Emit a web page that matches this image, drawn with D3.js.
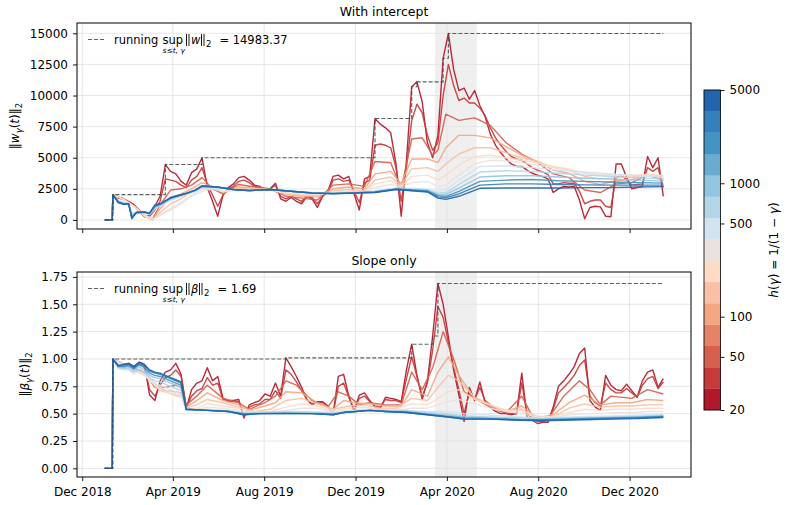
<!DOCTYPE html>
<html>
<head>
<meta charset="utf-8">
<script src="https://cdn.jsdelivr.net/npm/d3@7"></script>
<style>
  body { margin: 0; background: #fff; }
  text { font-family: "DejaVu Sans", sans-serif; fill: #000; }
</style>
</head>
<body>
<div id="chart"></div>
<script>
// ---- data ----
// week index k -> date = startDate + 7k days; all series sit at 0 before the start
const startDate = "2019-01-11";
const leadZeroWeeks = [-1.57, -0.15];
const shadeDates = ["2020-03-16", "2020-05-11"];
const xDomainDates = ["2018-11-24", "2021-02-21"];
const halfLives = [20, 35, 55, 90, 140, 220, 350, 450, 700, 1100, 1900, 3200, 5000];
const cbTicks = [20, 50, 100, 500, 1000, 5000];
const topTicks = [0, 2500, 5000, 7500, 10000, 12500, 15000];
const botTicks = [0, 0.25, 0.5, 0.75, 1.0, 1.25, 1.5, 1.75];
const binColors = ["#b2182b","#c53a3a","#d6604d","#e58267","#f4a582","#f9c0a3","#fddbc7","#e9e2de",
                   "#d1e5f0","#b2d5e8","#92c5de","#6aacd0","#4393c3","#3580bb","#2166ac"];

// weekly values (k = 0..105)
const top_h20 = [2030,1750,1650,1450,1150,650,250,400,1100,1900,
  4450,3900,3700,3100,2800,3800,4100,5000,2600,1500,
  300,2000,2600,2900,3400,3500,3200,2800,2700,2400,
  2500,2950,1700,1500,1800,1500,1300,1900,1700,1000,
  1900,2300,3500,3600,3300,3500,2100,800,3300,3500,
  8150,7700,7400,7000,4500,300,4800,10700,11100,9500,
  6200,5000,6800,13000,14983.37,12100,10400,10600,9700,10400,
  9200,8300,6900,6000,5400,4900,4500,4300,4300,4000,
  3750,3600,3480,3300,2200,2500,2700,2650,2700,1600,
  100,1000,1100,1050,300,250,4500,4500,3400,2500,
  2600,2700,5100,4200,5000,1900];
const top_h35 = [2030,1800,1700,1500,1250,800,350,300,800,1500,
  3300,3200,3100,2800,2600,3200,3500,4200,2900,2000,
  1100,2000,2500,2700,3100,3200,3000,2700,2650,2450,
  2500,2800,1900,1700,1900,1700,1500,1900,1800,1300,
  1900,2200,3200,3300,3100,3200,2300,1400,3000,3200,
  6000,6100,6000,5800,4200,1500,4200,8000,9300,8600,
  6800,5600,6200,10000,12500,10800,9600,9800,9400,9400,
  9000,8400,7400,6600,6000,5500,5100,4900,4800,4500,
  4200,4000,3850,3650,2900,2900,3000,2950,2950,2300,
  1300,1500,1600,1600,1100,1000,3400,3600,3200,2800,
  2850,2900,4200,3900,4200,2600];
// [week, value] pairs
const top_h55 = [[0,2030],[2,1700],[4,1150],[6,350],[7.6,100],[9,1200],[11,2400],[13,2500],[15,2800],[17,3400],[19,2500],[21,2100],[24,2850],[27,2650],[30,2500],[33,1900],[36,1750],[39,1600],[42,2800],[45,2900],[48,2700],[50,4700],[53,4600],[55,2500],[57,6500],[59,6600],[61,5200],[62,5600],[63.5,8500],[66,8000],[69,8200],[72,7600],[75,6200],[78,5300],[81,4600],[84,3700],[87,3400],[90,2400],[93,2200],[96,2900],[99,3000],[102,3600],[105,3200]];
const top_h90 = [[0,2030],[2,1650],[4,1100],[6,300],[7.6,0],[9,900],[11,1800],[13,2100],[15,2500],[17,3000],[19,2650],[21,2200],[24,2650],[27,2550],[30,2450],[33,2050],[36,1900],[39,1850],[42,2500],[45,2650],[48,2500],[50,3700],[53,3900],[55,2900],[57,4900],[60,4900],[62,4600],[63.5,5800],[66,6800],[69,6800],[72,6600],[75,5900],[78,5200],[81,4700],[84,4000],[87,3750],[90,3100],[93,2850],[96,3150],[99,3250],[102,3550],[105,3400]];
const top_h140 = [[0,2030],[2,1650],[4,1100],[6,300],[7.6,0],[9,600],[11,1300],[13,1700],[15,2250],[17,2700],[19,2600],[21,2250],[24,2550],[27,2500],[30,2450],[33,2100],[36,2000],[39,1950],[42,2350],[45,2450],[48,2350],[50,3200],[53,3450],[55,2800],[57,4100],[60,4200],[62,3900],[63.5,4500],[66,5300],[69,5800],[72,5800],[75,5400],[78,5000],[81,4700],[84,4250],[87,4000],[90,3500],[93,3300],[96,3400],[99,3450],[102,3600],[105,3550]];
const top_h220 = [[0,2030],[2,1650],[4,1100],[6,350],[7.6,50],[9,400],[11,900],[13,1400],[15,2000],[17,2450],[19,2550],[21,2250],[24,2450],[27,2450],[30,2400],[33,2150],[36,2050],[39,2000],[42,2250],[45,2350],[48,2300],[50,2900],[53,3150],[55,2700],[57,3500],[60,3600],[62,3200],[63.5,3600],[66,4400],[69,5100],[72,5200],[75,5000],[78,4800],[81,4600],[84,4300],[87,4100],[90,3750],[93,3600],[96,3600],[99,3600],[102,3650],[105,3600]];
const top_h350 = [[0,2030],[2,1650],[4,1100],[6,400],[7.6,100],[9,350],[11,800],[13,1300],[15,1900],[17,2300],[19,2500],[21,2300],[24,2400],[27,2420],[30,2400],[33,2200],[36,2100],[39,2050],[42,2200],[45,2250],[48,2250],[50,2600],[53,2850],[55,2650],[57,3000],[60,3100],[62,2700],[63.5,2800],[66,3600],[69,4500],[72,4800],[75,4750],[78,4600],[81,4400],[84,4200],[87,4000],[90,3800],[93,3650],[96,3600],[99,3580],[102,3560],[105,3550]];
const top_h450 = [[0,2030],[1,1560],[2,1420],[3,1300],[3.6,600],[4.5,620],[6,560],[7,430],[8,900],[9,1100],[11,1600],[13.7,2000],[15.7,2300],[17,2580],[20,2570],[23,2450],[26,2400],[30,2420],[34,2300],[38,2200],[42,2150],[46,2230],[50,2330],[54,2570],[57,2520],[60,2480],[62,2300],[63.5,2400],[66,3200],[70,4300],[75,4350],[80,4200],[85,4000],[90,3850],[95,3700],[100,3550],[105,3420]];
const top_h700 = [[0,2030],[1,1520],[2,1380],[3,1300],[3.6,450],[4.5,600],[6,580],[7,470],[8,980],[9,1150],[11,1650],[13.7,2040],[15.7,2330],[17,2630],[20,2600],[23,2450],[26,2390],[30,2430],[34,2300],[38,2190],[42,2140],[46,2210],[50,2290],[54,2530],[57,2470],[60,2420],[62,2150],[63.5,2200],[66,2850],[70,3850],[75,3950],[80,3900],[85,3750],[90,3600],[95,3500],[100,3380],[105,3280]];
const top_h1100 = [[0,2030],[1,1480],[2,1330],[3,1300],[3.6,350],[4.5,600],[6,600],[7,500],[8,1050],[9,1200],[11,1700],[13.7,2070],[15.7,2360],[17,2670],[20,2620],[23,2450],[26,2380],[30,2440],[34,2300],[38,2180],[42,2130],[46,2190],[50,2260],[54,2500],[57,2430],[60,2370],[62,2050],[63.5,2050],[66,2550],[70,3450],[75,3550],[80,3550],[85,3450],[90,3350],[95,3280],[100,3200],[105,3120]];
const top_h1900 = [[0,2030],[1,1450],[2,1300],[3,1300],[3.6,250],[4.5,600],[6,620],[7,520],[8,1100],[9,1250],[11,1750],[13.7,2090],[15.7,2380],[17,2700],[20,2630],[23,2450],[26,2370],[30,2450],[34,2300],[38,2170],[42,2120],[46,2170],[50,2240],[54,2480],[57,2400],[60,2330],[62,1950],[63.5,1900],[66,2300],[70,3100],[75,3200],[80,3250],[85,3150],[90,3100],[95,3050],[100,3000],[105,2960]];
const top_h3200 = [[0,2030],[1,1420],[2,1270],[3,1300],[3.6,150],[4.5,600],[6,640],[7,540],[8,1150],[9,1280],[11,1780],[13.7,2100],[15.7,2390],[17,2720],[20,2640],[23,2450],[26,2360],[30,2450],[34,2300],[38,2160],[42,2110],[46,2160],[50,2220],[54,2460],[57,2370],[60,2290],[62,1850],[63.5,1780],[66,2100],[70,2800],[75,2900],[80,2900],[85,2850],[90,2820],[95,2800],[100,2800],[105,2800]];
const top_h5000 = [[0,2030],[1,1400],[2,1250],[3,1300],[3.6,100],[4.5,600],[6,650],[7,550],[8,1200],[9,1300],[11,1800],[13.7,2100],[15.7,2400],[17,2750],[20,2650],[23,2450],[26,2350],[30,2450],[34,2300],[38,2150],[42,2100],[46,2150],[50,2200],[54,2450],[57,2350],[60,2250],[62,1750],[63.5,1650],[66,1900],[70,2540],[75,2560],[80,2560],[85,2560],[90,2600],[95,2600],[100,2650],[105,2680]];

const bot_h20 = [1.00,0.93,0.95,0.96,0.93,0.97,0.95,0.67,0.62,0.80,
  0.88,0.90,0.96,0.86,0.55,0.72,0.78,0.80,0.92,0.80,
  0.84,0.64,0.62,0.62,0.63,0.46,0.58,0.60,0.62,0.68,
  0.66,0.78,0.66,1.01,0.93,0.84,0.74,0.63,0.58,0.61,
  0.61,0.57,0.49,0.84,0.86,0.66,0.52,0.67,0.69,0.62,
  0.56,0.55,0.65,0.64,0.63,0.61,0.90,1.135,0.85,0.63,
  0.80,1.21,1.69,1.50,1.20,0.90,0.67,0.43,0.74,0.62,
  0.79,0.60,0.56,0.52,0.50,0.50,0.49,0.50,0.87,0.47,
  0.44,0.41,0.42,0.42,0.56,0.75,0.80,0.86,0.93,1.05,
  1.10,0.62,0.56,0.53,0.85,0.76,0.72,0.71,0.77,0.71,
  0.65,0.80,0.88,0.90,0.74,0.82];
const bot_h35 = [1.00,0.93,0.94,0.95,0.92,0.95,0.93,0.72,0.66,0.76,
  0.83,0.85,0.90,0.84,0.56,0.66,0.71,0.73,0.83,0.76,
  0.78,0.63,0.61,0.61,0.61,0.48,0.56,0.58,0.59,0.63,
  0.63,0.71,0.64,0.90,0.86,0.79,0.71,0.63,0.59,0.60,
  0.60,0.57,0.50,0.75,0.78,0.65,0.54,0.64,0.66,0.61,
  0.57,0.56,0.63,0.62,0.62,0.60,0.82,1.02,0.84,0.66,
  0.78,1.08,1.48,1.38,1.15,0.92,0.72,0.50,0.70,0.63,
  0.74,0.62,0.58,0.54,0.52,0.51,0.50,0.50,0.78,0.50,
  0.46,0.43,0.43,0.44,0.54,0.69,0.74,0.79,0.85,0.94,
  0.99,0.66,0.60,0.57,0.78,0.72,0.69,0.69,0.73,0.69,
  0.65,0.76,0.82,0.84,0.73,0.79];
const bot_h55 = [[0,1.00],[3,0.93],[6,0.88],[8,0.74],[10,0.74],[12,0.76],[13,0.74],[14,0.58],[16,0.66],[18,0.76],[21,0.64],[24,0.60],[26,0.54],[29,0.60],[31,0.66],[33,0.80],[35,0.76],[38,0.62],[41,0.56],[43,0.70],[45,0.66],[47,0.58],[49,0.60],[52,0.58],[55,0.58],[57,0.88],[59,0.72],[61,0.92],[63,1.25],[65,1.00],[67,0.70],[69,0.64],[72,0.56],[75,0.51],[78,0.66],[80,0.48],[83,0.45],[86,0.66],[89,0.80],[91,0.72],[93,0.58],[95,0.66],[99,0.64],[102,0.72],[105,0.68]];
const bot_h90 = [[0,1.00],[3,0.92],[6,0.87],[8,0.74],[10,0.71],[12,0.70],[13,0.69],[14,0.56],[16,0.62],[18,0.69],[21,0.62],[24,0.58],[26,0.53],[29,0.57],[31,0.60],[33,0.70],[36,0.69],[39,0.60],[42,0.54],[44,0.62],[46,0.60],[49,0.59],[52,0.57],[55,0.57],[57,0.72],[60,0.66],[62,0.88],[64,1.02],[66,0.85],[69,0.64],[72,0.57],[75,0.52],[78,0.57],[81,0.46],[84,0.49],[87,0.60],[90,0.67],[93,0.58],[96,0.60],[99,0.60],[102,0.63],[105,0.62]];
const bot_h140 = [[0,1.00],[3,0.91],[6,0.86],[9,0.71],[12,0.67],[13,0.66],[14,0.55],[16,0.58],[18,0.63],[21,0.60],[24,0.56],[27,0.52],[30,0.54],[33,0.62],[36,0.64],[39,0.59],[42,0.54],[45,0.57],[48,0.58],[51,0.55],[54,0.55],[57,0.64],[60,0.62],[62,0.74],[64,0.85],[66,0.80],[69,0.65],[72,0.58],[75,0.53],[78,0.54],[81,0.47],[84,0.47],[87,0.55],[90,0.59],[93,0.56],[96,0.57],[99,0.57],[102,0.58],[105,0.58]];
const bot_h220 = [[0,1.00],[3,0.91],[6,0.85],[9,0.72],[12,0.66],[13,0.65],[14,0.54],[16,0.55],[18,0.59],[21,0.57],[24,0.55],[27,0.51],[30,0.52],[33,0.56],[36,0.59],[39,0.57],[42,0.53],[45,0.55],[48,0.56],[51,0.54],[54,0.54],[57,0.59],[60,0.58],[62,0.64],[64,0.70],[66,0.72],[69,0.63],[72,0.58],[75,0.53],[78,0.52],[81,0.48],[84,0.47],[87,0.51],[90,0.54],[93,0.53],[96,0.54],[99,0.54],[102,0.55],[105,0.55]];
const bot_h350 = [[0,1.00],[3,0.92],[6,0.86],[9,0.74],[12,0.68],[13,0.67],[14,0.53],[16,0.54],[18,0.56],[21,0.55],[24,0.53],[27,0.51],[30,0.51],[33,0.53],[36,0.55],[39,0.55],[42,0.52],[45,0.53],[48,0.54],[51,0.53],[54,0.53],[57,0.55],[60,0.55],[62,0.58],[64,0.61],[66,0.63],[69,0.59],[72,0.55],[75,0.52],[78,0.50],[81,0.47],[84,0.46],[87,0.49],[90,0.50],[93,0.50],[96,0.51],[99,0.51],[102,0.52],[105,0.52]];
const bot_h450 = [[0,1.00],[1,0.91],[2,0.90],[3,0.90],[4,0.86],[5,0.89],[6,0.86],[7,0.80],[8,0.77],[9,0.76],[10,0.74],[11,0.72],[12,0.70],[13,0.68],[14,0.53],[18,0.54],[22,0.53],[25,0.51],[28,0.515],[33,0.52],[38,0.52],[42,0.51],[44,0.52],[49,0.54],[52,0.535],[56,0.53],[60,0.52],[64,0.52],[67,0.50],[72,0.485],[78,0.47],[82,0.46],[90,0.475],[95,0.48],[100,0.485],[105,0.495]];
const bot_h700 = [[0,1.00],[1,0.92],[2,0.91],[3,0.91],[4,0.88],[5,0.91],[6,0.88],[7,0.83],[8,0.80],[9,0.79],[10,0.77],[11,0.75],[12,0.73],[13,0.71],[14,0.53],[18,0.535],[22,0.525],[25,0.505],[28,0.51],[33,0.515],[38,0.51],[42,0.505],[44,0.515],[49,0.535],[52,0.53],[56,0.525],[60,0.51],[64,0.50],[67,0.48],[72,0.47],[78,0.46],[82,0.455],[90,0.465],[95,0.47],[100,0.475],[105,0.485]];
const bot_h1100 = [[0,1.00],[1,0.93],[2,0.92],[3,0.93],[4,0.90],[5,0.93],[6,0.90],[7,0.85],[8,0.83],[9,0.82],[10,0.80],[11,0.78],[12,0.76],[13,0.74],[14,0.535],[18,0.53],[22,0.52],[25,0.50],[28,0.505],[33,0.51],[38,0.505],[42,0.50],[44,0.51],[49,0.53],[52,0.525],[56,0.52],[60,0.50],[64,0.485],[67,0.47],[72,0.46],[78,0.45],[82,0.45],[90,0.46],[95,0.465],[100,0.47],[105,0.48]];
const bot_h1900 = [[0,1.00],[1,0.93],[2,0.93],[3,0.94],[4,0.91],[5,0.95],[6,0.92],[7,0.87],[8,0.85],[9,0.84],[10,0.82],[11,0.80],[12,0.78],[13,0.76],[14,0.54],[18,0.53],[22,0.52],[25,0.50],[28,0.50],[33,0.505],[38,0.50],[42,0.495],[44,0.51],[49,0.53],[52,0.52],[56,0.515],[60,0.495],[64,0.475],[67,0.46],[72,0.455],[78,0.445],[82,0.445],[90,0.455],[95,0.46],[100,0.465],[105,0.475]];
const bot_h3200 = [[0,1.00],[1,0.94],[2,0.94],[3,0.95],[4,0.92],[5,0.96],[6,0.94],[7,0.89],[8,0.87],[9,0.86],[10,0.84],[11,0.82],[12,0.80],[13,0.78],[14,0.54],[18,0.53],[22,0.52],[25,0.49],[28,0.50],[33,0.50],[38,0.50],[42,0.49],[44,0.51],[49,0.53],[52,0.52],[56,0.51],[60,0.49],[64,0.47],[67,0.45],[72,0.45],[78,0.44],[82,0.44],[90,0.45],[95,0.455],[100,0.46],[105,0.47]];
const bot_h5000 = [[0,1.00],[1,0.94],[2,0.95],[3,0.96],[4,0.93],[5,0.97],[6,0.95],[7,0.90],[8,0.88],[9,0.87],[10,0.85],[11,0.83],[12,0.81],[13,0.79],[14,0.54],[18,0.53],[22,0.52],[25,0.49],[28,0.50],[33,0.50],[38,0.50],[42,0.49],[44,0.51],[49,0.53],[52,0.52],[56,0.51],[60,0.49],[64,0.47],[67,0.45],[72,0.45],[78,0.44],[82,0.435],[90,0.445],[95,0.45],[100,0.455],[105,0.465]];

const topLines = [top_h20, top_h35, top_h55, top_h90, top_h140, top_h220, top_h350, top_h450, top_h700, top_h1100, top_h1900, top_h3200, top_h5000];
const botLines = [bot_h20, bot_h35, bot_h55, bot_h90, bot_h140, bot_h220, bot_h350, bot_h450, bot_h700, bot_h1100, bot_h1900, bot_h3200, bot_h5000];

// ---- layout ----
const W = 786, H = 505;
const svg = d3.select("#chart").append("svg").attr("width", W).attr("height", H);
const parse = d3.timeParse("%Y-%m-%d");
const t0 = parse(startDate);
const weekDate = k => new Date(t0.getTime() + k * 7 * 864e5);

const x = d3.scaleTime().domain(xDomainDates.map(parse)).range([77, 691]);
const xTicks = d3.timeMonth.range(x.domain()[0], x.domain()[1]).filter(d => d.getMonth() % 4 === 3);

const color = d3.scaleQuantize()
  .domain([Math.log10(20), Math.log10(5000)])
  .range(binColors);

// turn a series (weekly array or [week,value] pairs) into [date,value] points
function toPoints(s){
  const pairs = Array.isArray(s[0]) ? s : s.map((v, i) => [i, v]);
  return leadZeroWeeks.map(k => [k, 0]).concat(pairs).map(([k, v]) => [weekDate(k), v]);
}

function runningSup(series){
  const all = series.flat().sort((a, b) => a[0] - b[0]);
  let m = -Infinity;
  const out = [];
  for (const [t, v] of all){
    if (v > m){ m = v; out.push([t, m]); }
  }
  out.push([all[all.length - 1][0], m]);
  return {pts: out, max: m};
}

function drawPanel(cfg){
  const g = svg.append("g");
  const y = d3.scaleLinear().domain(cfg.yDomain).range([cfg.bottom, cfg.top]);

  // shaded period
  const s0 = parse(shadeDates[0]), s1 = parse(shadeDates[1]);
  g.append("rect")
    .attr("x", x(s0)).attr("width", x(s1) - x(s0))
    .attr("y", cfg.top).attr("height", cfg.bottom - cfg.top)
    .attr("fill", "#efefef");

  // grid
  g.selectAll(".gx").data(xTicks).enter().append("line")
    .attr("x1", d => x(d)).attr("x2", d => x(d))
    .attr("y1", cfg.top).attr("y2", cfg.bottom)
    .attr("stroke", "#e3e3e3").attr("stroke-width", 0.9);
  g.selectAll(".gy").data(cfg.ticks).enter().append("line")
    .attr("x1", 77).attr("x2", 691)
    .attr("y1", d => y(d)).attr("y2", d => y(d))
    .attr("stroke", "#e3e3e3").attr("stroke-width", 0.9);

  // lines, smallest h first so the blue ones sit on top
  const line = d3.line().x(d => x(d[0])).y(d => y(d[1]));
  const series = cfg.lines.map(toPoints);
  g.selectAll(".ln").data(series).enter().append("path")
    .attr("d", line)
    .attr("fill", "none")
    .attr("stroke", (d, i) => color(Math.log10(halfLives[i])))
    .attr("stroke-width", 1.4)
    .attr("stroke-linejoin", "round")
    .attr("opacity", 0.92);

  // running sup
  const sup = runningSup(series);
  g.append("path")
    .attr("d", d3.line().x(d => x(d[0])).y(d => y(d[1])).curve(d3.curveStepAfter)(sup.pts))
    .attr("fill", "none").attr("stroke", "#444").attr("stroke-width", 1.1)
    .attr("stroke-dasharray", "4,2").attr("opacity", 0.85);

  // axes
  const ax = g.append("g").attr("transform", `translate(0,${cfg.bottom})`)
    .call(d3.axisBottom(x).tickValues(xTicks).tickSize(4).tickPadding(6.5)
      .tickFormat(cfg.showX ? d3.timeFormat("%b %Y") : ""));
  const ay = g.append("g").attr("transform", "translate(77,0)")
    .call(d3.axisLeft(y).tickValues(cfg.ticks).tickSize(4).tickPadding(5)
      .tickFormat(cfg.fmt));
  [ax, ay].forEach(a => {
    a.select(".domain").remove();
    a.selectAll("text").style("font-size", "12px").style("font-family", "DejaVu Sans");
    a.selectAll("line").attr("stroke-width", 0.9);
  });

  // frame
  g.append("rect").attr("x", 77).attr("y", cfg.top)
    .attr("width", 614).attr("height", cfg.bottom - cfg.top)
    .attr("fill", "none").attr("stroke", "#000").attr("stroke-width", 1);

  // title
  g.append("text").attr("x", 384).attr("y", cfg.top - 7)
    .attr("text-anchor", "middle").style("font-size", "12.5px").text(cfg.title);

  // y label
  const yl = g.append("text")
    .attr("transform", `translate(${cfg.labelX},${(cfg.top + cfg.bottom) / 2}) rotate(-90)`)
    .attr("text-anchor", "middle").style("font-size", "12px");
  yl.append("tspan").text("\u2016");
  yl.append("tspan").style("font-style", "italic").text(cfg.sym);
  yl.append("tspan").attr("dy", 3).style("font-size", "8.5px").style("font-style", "italic").text("\u03b3");
  yl.append("tspan").attr("dy", -3).text("(");
  yl.append("tspan").style("font-style", "italic").text("t");
  yl.append("tspan").text(")\u2016");
  yl.append("tspan").attr("dy", 3).style("font-size", "8.5px").text("2");

  // legend
  const ly = cfg.top + 16.5;
  const lg = g.append("g");
  lg.append("line").attr("x1", 88).attr("x2", 104).attr("y1", ly).attr("y2", ly)
    .attr("stroke", "#444").attr("stroke-width", 1.1).attr("stroke-dasharray", "4,2").attr("opacity", 0.85);
  let cx = 114;
  const base = ly + 4;
  function piece(str, opt){
    opt = opt || {};
    const t = lg.append("text").attr("x", cx).attr("y", base + (opt.dy || 0))
      .style("font-size", (opt.size || 11.5) + "px").text(str);
    if (opt.italic) t.style("font-style", "italic");
    const start = cx;
    cx += t.node().getComputedTextLength() + (opt.gap || 0);
    return start;
  }
  // double bar of the norm, drawn as two strokes
  function normBar(){
    const x0 = Math.round(cx) + 0.5;
    [x0, x0 + 2.5].forEach(bx => lg.append("line")
      .attr("x1", bx).attr("x2", bx).attr("y1", base - 9.5).attr("y2", base + 2.5)
      .attr("stroke", "#000").attr("stroke-width", 0.9));
    cx = x0 + 4.5;
  }
  piece("running\u00a0", {gap: 0.5});
  const supX = piece("sup", {gap: 3});
  normBar();
  piece(cfg.sym, {italic: true, gap: 1});
  normBar();
  piece("2", {size: 8.5, dy: 3, gap: 8});
  piece("= " + d3.format(".2f")(sup.max));
  lg.append("text").attr("x", supX).attr("y", base + 9.5)
    .style("font-size", "7.5px").style("font-style", "italic").text("s\u2264t, \u03b3");
}

drawPanel({
  top: 23, bottom: 229, yDomain: [-730, 15830], ticks: topTicks, fmt: d3.format("d"),
  lines: topLines, title: "With intercept", sym: "w", labelX: 19, showX: false
});
drawPanel({
  top: 272, bottom: 477, yDomain: [-0.079, 1.795], ticks: botTicks, fmt: d3.format(".2f"),
  lines: botLines, title: "Slope only", sym: "\u03b2", labelX: 29, showX: true
});

// ---- colorbar ----
const cb = svg.append("g");
const cy = d3.scaleLog().domain([20, 5000]).range([410, 90]);
const edges = d3.range(16).map(i => 20 * Math.pow(250, i / 15));
cb.selectAll("rect.bin").data(binColors).enter().append("rect")
  .attr("x", 704).attr("width", 16.5)
  .attr("y", (d, i) => cy(edges[i + 1]))
  .attr("height", (d, i) => cy(edges[i]) - cy(edges[i + 1]))
  .attr("fill", d => d).attr("stroke", d => d).attr("stroke-width", 0.3);
cb.append("rect").attr("x", 704).attr("y", 90).attr("width", 16.5).attr("height", 320)
  .attr("fill", "none").attr("stroke", "#000").attr("stroke-width", 0.8);
const cax = cb.append("g").attr("transform", "translate(720.5,0)")
  .call(d3.axisRight(cy).tickValues(cbTicks).tickFormat(d3.format("d")).tickSize(4).tickPadding(5));
cax.select(".domain").remove();
cax.selectAll("text").style("font-size", "12px").style("font-family", "DejaVu Sans");
cax.selectAll("line").attr("stroke-width", 0.9);

const cl = cb.append("text").attr("transform", "translate(778,250) rotate(-90)")
  .attr("text-anchor", "middle").style("font-size", "12px");
cl.append("tspan").style("font-style", "italic").text("h");
cl.append("tspan").text("(");
cl.append("tspan").style("font-style", "italic").text("\u03b3");
cl.append("tspan").text(") = 1/(1 \u2212 ");
cl.append("tspan").style("font-style", "italic").text("\u03b3");
cl.append("tspan").text(")");
</script>
</body>
</html>
